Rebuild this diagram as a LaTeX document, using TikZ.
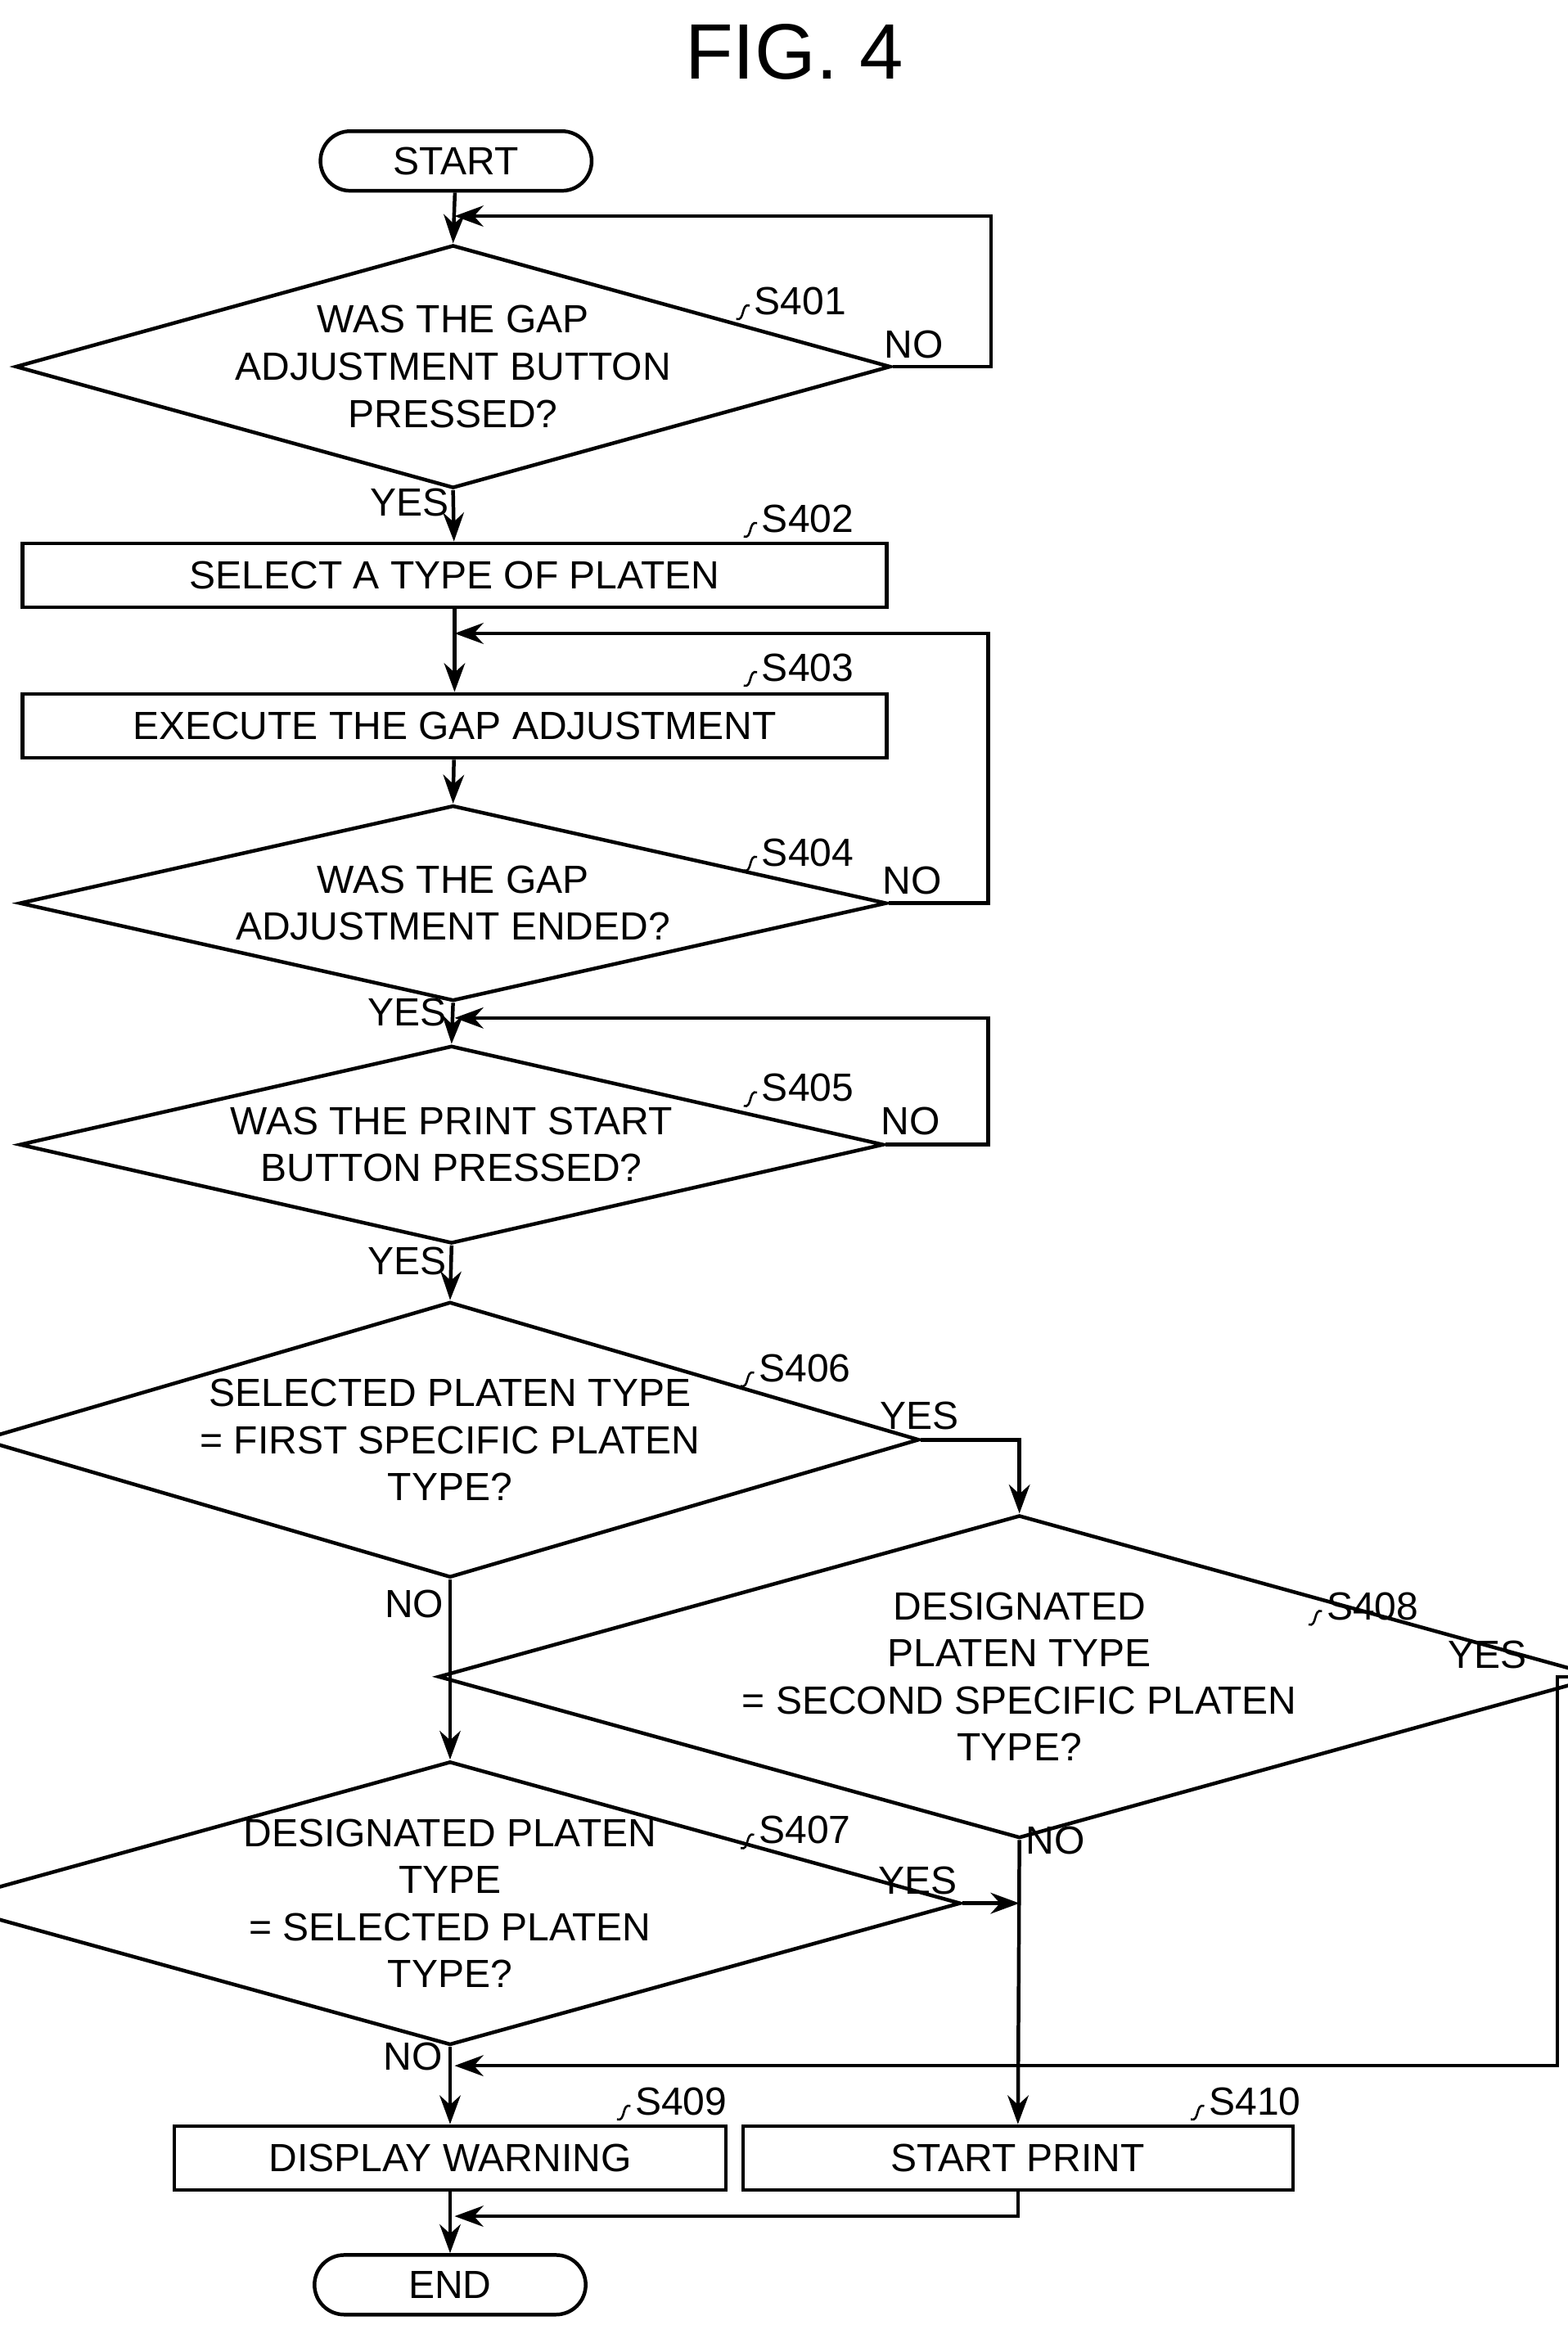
\documentclass[tikz,border=0pt]{standalone}
\usepackage{fontspec}
\setmainfont{Liberation Sans}
\usetikzlibrary{positioning,calc,shapes.geometric,arrows.meta}

\tikzset{
  flow/.style={line width=1.4pt},
  arr/.style={flow,-{Stealth[length=11pt,width=8pt]}},
  proc/.style={draw,line width=1.4pt,minimum height=0.86cm,font=\fontsize{15}{16}\selectfont},
  term/.style={draw,line width=1.4pt,rounded corners=0.4cm,minimum width=3.64cm,minimum height=0.8cm,font=\fontsize{15}{16}\selectfont},
  dec/.style={draw,line width=1.4pt,diamond,aspect=3.6,inner sep=0pt,align=center,font=\fontsize{15}{18}\selectfont},
  lab/.style={font=\fontsize{15}{16}\selectfont},
  stepno/.style={font=\fontsize{15}{16}\selectfont,anchor=west}
}

% step label with a small wavy leader
\newcommand{\steplab}[3]{%
  \node[stepno] (#1) at (#2) {#3};
  \draw[line width=0.8pt] ($(#1.west)+(3,3)$) .. controls +(-6,-2) and +(6,2) .. ($(#1.west)+(-6,12)$);
}

\begin{document}
\begin{tikzpicture}[x=0.02cm,y=-0.02cm]
  \useasboundingbox (0,0) rectangle (1052,1560);

  % title
  \node[font=\fontsize{30}{32}\selectfont] (title) at (533,35) {FIG. 4};

  % main column
  \node[term] (start) at (306,108) {START};
  \node[dec,minimum width=11.64cm,minimum height=2.96cm] (s401) at (304,246) {WAS THE GAP\\ADJUSTMENT BUTTON\\PRESSED?};
  \node[proc,minimum width=11.6cm] (s402) at (305,386) {SELECT A TYPE OF PLATEN};
  \node[proc,minimum width=11.6cm] (s403) at (305,487) {EXECUTE THE GAP ADJUSTMENT};
  \node[dec,minimum width=11.64cm,minimum height=2.24cm] (s404) at (304,606) {WAS THE GAP\\ADJUSTMENT ENDED?};
  \node[dec,minimum width=11.6cm,minimum height=2.48cm] (s405) at (303,768) {WAS THE PRINT START\\BUTTON PRESSED?};
  \node[dec,minimum width=11.58cm,minimum height=3.7cm] (s406) at (302,966) {SELECTED PLATEN TYPE\\= FIRST SPECIFIC PLATEN\\TYPE?};
  \node[dec,minimum width=11.54cm,minimum height=3.72cm] (s408) at (684,1125) {DESIGNATED\\PLATEN TYPE\\= SECOND SPECIFIC PLATEN\\TYPE?};
  \node[dec,minimum width=11.58cm,minimum height=3.48cm] (s407) at (302,1277) {DESIGNATED PLATEN\\TYPE\\= SELECTED PLATEN\\TYPE?};
  \node[proc,minimum width=7.4cm] (s409) at (302,1448) {DISPLAY WARNING};
  \node[proc,minimum width=7.38cm] (s410) at (683,1448) {START PRINT};
  \node[term] (end) at (302,1533) {END};

  % helper points
  \coordinate (j401) at (305,145);
  \coordinate (j403) at (305,425);
  \coordinate (j405) at (305,683);
  \coordinate (j408) at (684,1277);
  \coordinate (j409) at (305,1386);
  \coordinate (j410) at (305,1487);

  % connectors
  \draw[arr] (start) -- (s401.north);
  \draw[arr] (s401.east) -- (665,246) |- (j401);
  \draw[arr] (s401.south) -- (s402);
  \draw[arr] (s402) -- (s403);
  \draw[arr] (s403) -- (s404.north);
  \draw[arr] (s404.east) -- (663,606) |- (j403);
  \draw[arr] (s404.south) -- (s405.north);
  \draw[arr] (s405.east) -- (663,768) |- (j405);
  \draw[arr] (s405.south) -- (s406.north);
  \draw[arr] (s406.east) -| (s408.north);
  \draw[arr] (s406.south) -- (s407.north);
  \draw[arr] (s407.east) -- (j408);
  \draw[arr] (s408.east) -- (1045,1125) |- (j409);
  \draw[arr] (s408.south) -- (s410.north);
  \draw[arr] (s407.south) -- (s409.north);
  \draw[arr] (s410.south) |- (j410);
  \draw[arr] (s409.south) -- (end.north);

  % branch labels
  \node[lab] (n401) at (613,231) {NO};
  \node[lab] (y401) at (275,337) {YES};
  \node[lab] (n404) at (612,591) {NO};
  \node[lab] (y404) at (273,679) {YES};
  \node[lab] (n405) at (611,752) {NO};
  \node[lab] (y405) at (273,846) {YES};
  \node[lab] (y406) at (617,950) {YES};
  \node[lab] (n406) at (278,1076) {NO};
  \node[lab] (y408) at (998,1110) {YES};
  \node[lab] (n408) at (708,1235) {NO};
  \node[lab] (y407) at (616,1262) {YES};
  \node[lab] (n407) at (277,1380) {NO};

  % step numbers
  \steplab{t401}{500,202}{S401}
  \steplab{t402}{505,348}{S402}
  \steplab{t403}{505,448}{S403}
  \steplab{t404}{505,572}{S404}
  \steplab{t405}{505,730}{S405}
  \steplab{t406}{503,918}{S406}
  \steplab{t408}{884,1078}{S408}
  \steplab{t407}{503,1228}{S407}
  \steplab{t409}{420,1410}{S409}
  \steplab{t410}{805,1410}{S410}
\end{tikzpicture}
\end{document}
